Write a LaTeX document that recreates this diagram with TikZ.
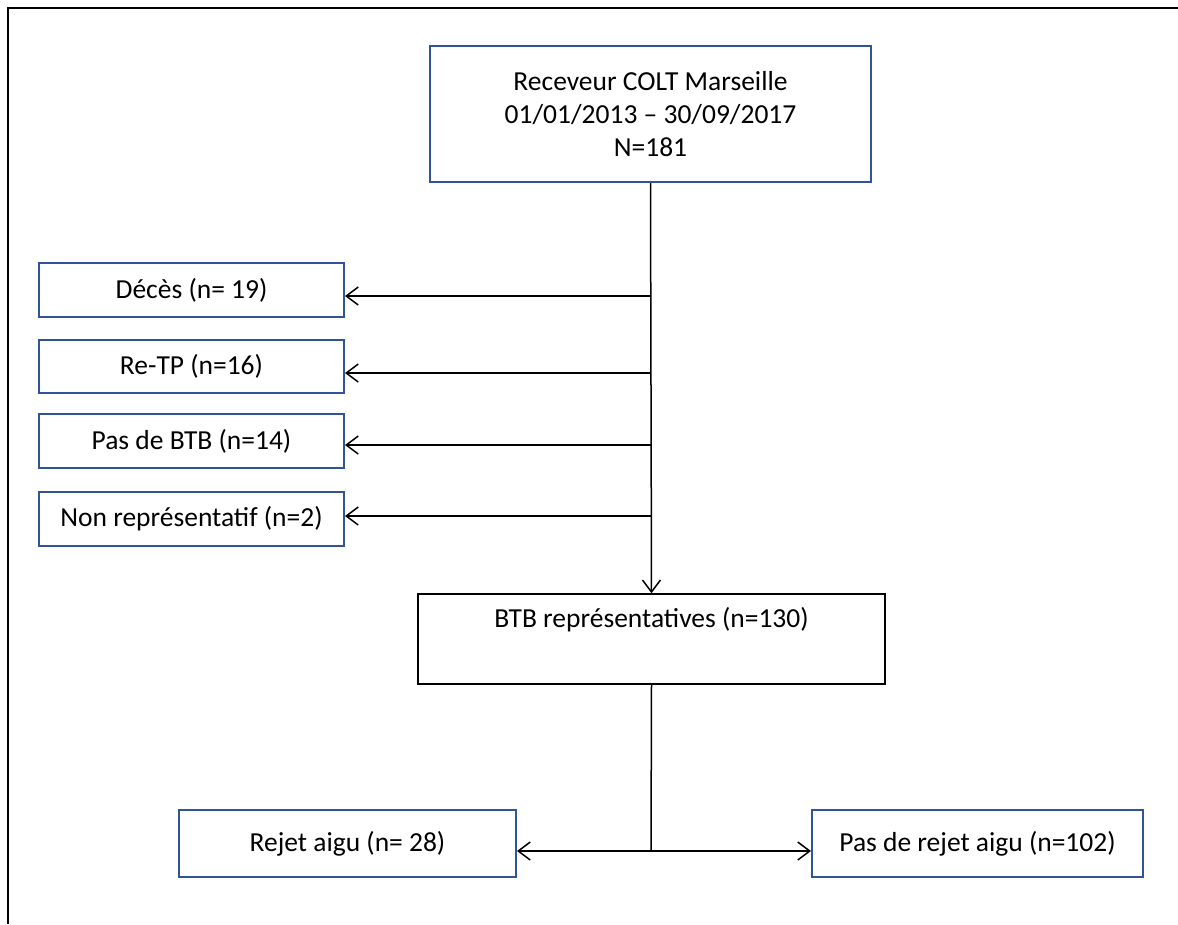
\documentclass[tikz,border=0pt]{standalone}
\usepackage{fontspec}
\setmainfont{Carlito}
\usetikzlibrary{arrows.meta}
\definecolor{boxblue}{RGB}{47,85,151}
\begin{document}
\begin{tikzpicture}[x=1pt,y=-1pt,
  txt/.style={font=\fontsize{27.5}{33}\selectfont},
  bluebox/.style={draw=boxblue, line width=2pt, fill=white, inner sep=0pt, align=center, txt},
  blackbox/.style={draw=black, line width=1.5pt, fill=white, inner sep=0pt, align=center, txt},
  arr/.style={line width=1.5pt, -{Straight Barb[length=12pt,width=18pt,line width=1.5pt]}},
  plain/.style={line width=1.5pt}]
\useasboundingbox (0,0) rectangle (1178,924);
\draw[line width=2pt] (8,924) -- (8,8) -- (1178,8);

\node[bluebox, minimum width=441pt, minimum height=136pt] (top) at (650.5,114)
  {Receveur COLT Marseille\\01/01/2013 -- 30/09/2017\\N=181};
\node[bluebox, minimum width=305pt, minimum height=54pt] (deces) at (191.5,290) {Décès (n= 19)};
\node[bluebox, minimum width=305pt, minimum height=53pt] (retp) at (191.5,366.5) {Re-TP (n=16)};
\node[bluebox, minimum width=305pt, minimum height=54pt] (pasbtb) at (191.5,441) {Pas de BTB (n=14)};
\node[bluebox, minimum width=305pt, minimum height=54pt] (nonrep) at (191.5,519) {Non représentatif (n=2)};
\node[blackbox, minimum width=467pt, minimum height=90pt] (btb) at (651.5,639) {BTB représentatives (n=130)\\\strut};
\node[bluebox, minimum width=337pt, minimum height=67pt] (rej) at (347.5,843.5) {Rejet aigu (n= 28)};
\node[bluebox, minimum width=331pt, minimum height=67pt] (nrej) at (977.5,843.5) {Pas de rejet aigu (n=102)};

\coordinate (j1) at (651,296);
\coordinate (j2) at (651,373);
\coordinate (j3) at (651,445);
\coordinate (j4) at (651,516);
\coordinate (split) at (651,851);

\draw[arr] (top.south) -- (btb.north);
\draw[arr] (j1) -- (j1 -| deces.east);
\draw[arr] (j2) -- (j2 -| retp.east);
\draw[arr] (j3) -- (j3 -| pasbtb.east);
\draw[arr] (j4) -- (j4 -| nonrep.east);
\draw[plain] (btb.south) -- (split);
\draw[arr] (split) -- (split -| rej.east);
\draw[arr] (split) -- (split -| nrej.west);
\end{tikzpicture}
\end{document}
